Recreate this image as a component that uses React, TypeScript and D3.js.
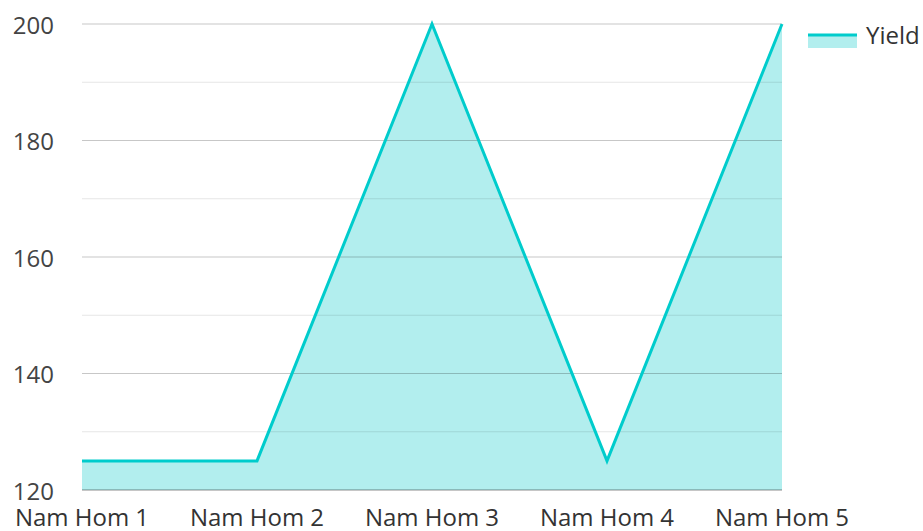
import React from "react";
import * as d3 from "d3";

const categories = ["Nam Hom 1", "Nam Hom 2", "Nam Hom 3", "Nam Hom 4", "Nam Hom 5"];
const yieldValues = [125, 125, 200, 125, 200];
const yTicks = [120, 140, 160, 180, 200];
const minorTicks = [130, 150, 170, 190];
const seriesName = "Yield";

const width = 923;
const height = 531;
const margin = { top: 24, right: 141, bottom: 41, left: 82 };
const font = "'Open Sans', 'Noto Sans', sans-serif";

export default function App() {
  const x = d3
    .scalePoint<string>()
    .domain(categories)
    .range([margin.left, width - margin.right]);
  const y = d3
    .scaleLinear()
    .domain([120, 200])
    .range([height - margin.bottom, margin.top]);

  const points: [number, number][] = categories.map((c, i) => [x(c) as number, y(yieldValues[i])]);
  const line = d3.line()(points) || "";
  const area =
    d3
      .area()
      .x((d) => d[0])
      .y0(y(120))
      .y1((d) => d[1])(points) || "";

  const x0 = margin.left;
  const x1 = width - margin.right;

  return (
    <svg
      width={width}
      height={height}
      style={{ position: "absolute", left: 0, top: 0, fontFamily: font }}
    >
      <path d={area} fill="#b2eeee" />
      {minorTicks.map((t) => (
        <line key={"m" + t} x1={x0} x2={x1} y1={y(t)} y2={y(t)} stroke="#000" strokeOpacity={0.1} strokeWidth={1} />
      ))}
      {yTicks.map((t) => (
        <line key={"g" + t} x1={x0} x2={x1} y1={y(t)} y2={y(t)} stroke="#000" strokeOpacity={t === 120 ? 0.3 : 0.22} strokeWidth={t === 120 ? 1.5 : 1} />
      ))}
      <path d={line} fill="none" stroke="#00cccc" strokeWidth={3} strokeLinejoin="miter" />
      {yTicks.map((t) => (
        <text
          key={"t" + t}
          x={54}
          y={y(t)}
          textAnchor="end"
          dominantBaseline="central"
          fontSize={24}
          fill="#444"
        >
          {t}
        </text>
      ))}
      {categories.map((c) => (
        <text key={c} x={x(c) as number} y={526} textAnchor="middle" fontSize={24} fill="#333">
          {c}
        </text>
      ))}
      <g>
        <rect x={808} y={35} width={49} height={13} fill="#b2eeee" />
        <line x1={808} x2={857} y1={35} y2={35} stroke="#00cccc" strokeWidth={3} />
        <text x={866} y={44} fontSize={24} fill="#333">
          {seriesName}
        </text>
      </g>
    </svg>
  );
}
